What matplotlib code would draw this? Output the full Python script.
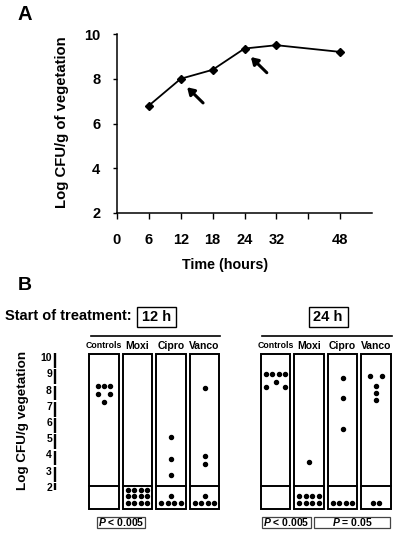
import matplotlib
matplotlib.use("Agg")
import matplotlib.pyplot as plt
from matplotlib.patches import Rectangle

plt.rcParams['font.family'] = ['Liberation Sans', 'DejaVu Sans']
plt.rcParams['font.weight'] = 'bold'
plt.rcParams['axes.labelweight'] = 'bold'
plt.rcParams['mathtext.fontset'] = 'custom'
plt.rcParams['mathtext.it'] = 'Liberation Sans:italic:bold'
plt.rcParams['mathtext.rm'] = 'Liberation Sans:bold'

# ---- panel A: untreated growth in vegetations
tick_hours = [0, 6, 12, 18, 24, 32, 40, 48]
tick_labels = ['0', '6', '12', '18', '24', '32', '', '48']
hours = [6, 12, 18, 24, 32, 48]
log_cfu = [6.8, 8.0, 8.4, 9.35, 9.5, 9.2]
treat_start_h = [12, 24]

# ---- panel B: individual vegetations (log CFU/g), sterile ones counted separately
drugs = ['Controls', 'Moxi', 'Cipro', 'Vanco']
starts = ['12 h', '24 h']
ctrl_12h = [8.25, 8.25, 8.25, 7.8, 7.8, 7.3]
moxi_12h = []
cipro_12h = [5.15, 3.8, 2.8]
vanco_12h = [8.15, 3.95, 3.45]
sterile_12h = [0, 12, 5, 5]
ctrl_24h = [9.0, 9.0, 9.0, 9.0, 8.5, 8.2, 8.2]
moxi_24h = [3.6]
cipro_24h = [8.75, 7.55, 5.65]
vanco_24h = [8.9, 8.9, 8.3, 7.85, 7.4]
sterile_24h = [0, 8, 4, 2]
p_text_12h = ['$P$ < 0.005']
p_text_24h = ['$P$ < 0.005', '$P$ = 0.05']
detect_limit = 2.1

fig = plt.figure(figsize=(4.01, 5.36), dpi=100)

# ================= A
ax = fig.add_axes([117/401, 1-213/536, 255/401, 179/536])
pos = [tick_hours.index(h) for h in hours]
ax.plot(pos, log_cfu, color='black', lw=1.3, marker='D', ms=4.2)
for h in treat_start_h:
    i = hours.index(h)
    tip = (pos[i] + 0.2, log_cfu[i] - 0.38)
    tail = (tip[0] + 0.5, tip[1] - 0.7)
    ax.annotate('', xy=tip, xytext=tail,
                arrowprops=dict(arrowstyle='-|>,head_length=0.4,head_width=0.25',
                                color='black', lw=2.2, shrinkA=0, shrinkB=0))
ax.set_xlim(0, 8)
ax.set_ylim(2, 10)
ax.set_xticks(range(len(tick_hours)))
ax.set_xticklabels(tick_labels)
ax.set_yticks([2, 4, 6, 8, 10])
ax.spines['top'].set_visible(False)
ax.spines['right'].set_visible(False)
for s in ['left', 'bottom']:
    ax.spines[s].set_linewidth(1.1)
ax.tick_params(axis='x', length=4.5, width=1, pad=10, labelsize=10.5)
ax.tick_params(axis='y', length=3, width=1, pad=9, labelsize=10.5)
ax.set_ylabel('Log CFU/g of vegetation', fontsize=10.7)
ax.yaxis.set_label_coords(-0.19, 0.51)
ax.set_xlabel('Time (hours)', fontsize=10.3)
ax.xaxis.set_label_coords(0.425, -0.25)
fig.text(25/401, 1-15/536, 'A', fontsize=14.5, ha='center', va='center')

# ================= B
def bx(p):
    return (p - 104) / 33.5


def by(p):
    return 10 + (358 - p) / 16.25


axb = fig.add_axes([0, 6/536, 1, 250/536])
axb.set_xlim(bx(0), bx(401))
axb.set_ylim(by(530), by(280))
axb.axis('off')

axb.text(bx(25), by(285), 'B', fontsize=14, ha='center', va='center')
axb.text(bx(5), by(316.5), 'Start of treatment:', fontsize=10.5, ha='left', va='center')

# scale on the left
scale = list(range(10, 1, -1))
for k in scale:
    axb.text(bx(52), k, str(k), fontsize=7.5, ha='right', va='center')
    top = k + 0.3
    bot = k - 0.6 if k > 2 else k - 0.1
    axb.plot([bx(55), bx(55)], [top, bot], color='black', lw=1.7, solid_capstyle='butt')
axb.text(bx(23), 6.15, 'Log CFU/g vegetation', fontsize=9.7, rotation=90,
         ha='center', va='center')

values = {'12 h': [ctrl_12h, moxi_12h, cipro_12h, vanco_12h],
          '24 h': [ctrl_24h, moxi_24h, cipro_24h, vanco_24h]}
sterile = {'12 h': sterile_12h, '24 h': sterile_24h}
p_texts = {'12 h': p_text_12h, '24 h': p_text_24h}
p_boxes = {'12 h': [(97, 145)], '24 h': [(262, 311), (314, 390)]}

col_w = 0.88
dot_dx = 0.19
y_top, y_bot = by(354), by(509)
for g, st in enumerate(starts):
    xs = [g * 5.12 + i for i in range(len(drugs))]
    # start-time box and header rule
    cx = xs[0] + 1.57
    axb.add_patch(Rectangle((cx - 0.58, by(327)), 1.16, by(307) - by(327),
                            fill=False, lw=1.0, ec='black'))
    axb.text(cx, by(317), st, fontsize=10.5, ha='center', va='center')
    axb.plot([xs[0] - 0.4, xs[-1] + 0.47], [by(336)] * 2, color='black', lw=1.2)
    for x, name, vals, n0 in zip(xs, drugs, values[st], sterile[st]):
        axb.text(x, by(346), name, fontsize=6.3 if name == 'Controls' else 7.5,
                 ha='center', va='center')
        axb.add_patch(Rectangle((x - col_w / 2, y_bot), col_w, y_top - y_bot,
                                fill=False, lw=1.4, ec='black'))
        axb.plot([x - col_w / 2, x + col_w / 2], [detect_limit] * 2, color='black', lw=1.4)
        # detected vegetations: equal values side by side
        if vals:
            uniq = sorted(set(vals), reverse=True)
            widest = max(vals.count(u) for u in uniq)
            for u in uniq:
                n = vals.count(u)
                if n == 1:
                    offs = [0.0]
                else:
                    half = max(widest - 1, 2) / 2 * dot_dx
                    offs = [-half + j * 2 * half / (n - 1) for j in range(n)]
                axb.plot([x + o for o in offs], [u] * n, 'o', color='black', ms=2.9)
        # sterile vegetations: rows of four under the detection limit
        for j in range(n0):
            row, c = divmod(j, 4)
            in_row = min(4, n0 - row * 4)
            off = (c - (in_row - 1) / 2) * dot_dx
            axb.plot(x + off, 1.08 + row * 0.4, 'o', color='black', ms=2.9)
    for (l, r), t in zip(p_boxes[st], p_texts[st]):
        axb.add_patch(Rectangle((bx(l), by(528)), bx(r) - bx(l), by(517) - by(528),
                                fill=False, lw=0.9, ec='#444444'))
        axb.text((bx(l) + bx(r)) / 2, by(522.5), t, fontsize=7.5, ha='center', va='center')

fig.savefig('out.png', dpi=100)
